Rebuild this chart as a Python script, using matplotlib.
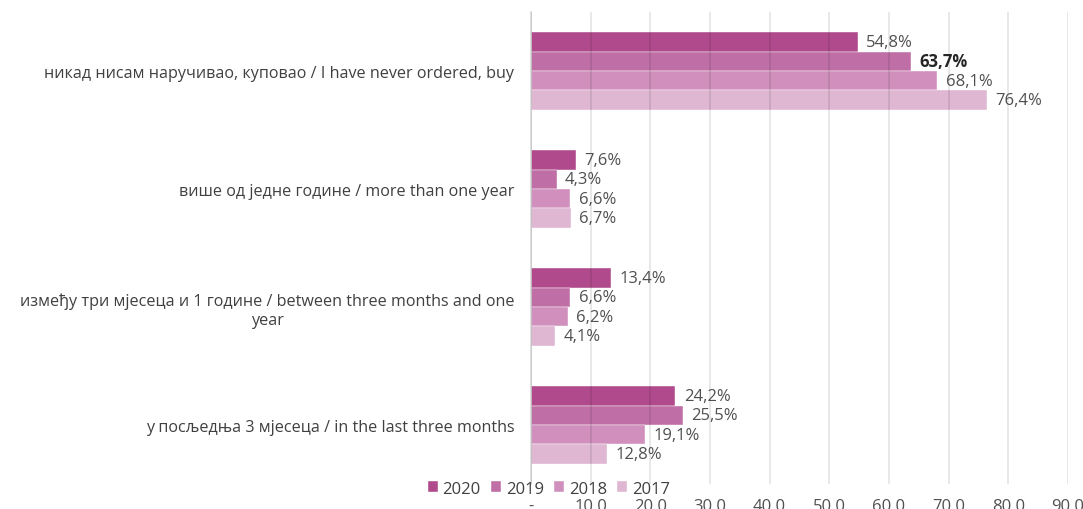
import matplotlib.pyplot as plt
import numpy as np

plt.rcParams['font.family'] = ['Open Sans', 'DejaVu Sans']

# data (top to bottom)
categories = [
    'никад нисам наручивао, куповао / I have never ordered, buy',
    'више од једне године / more than one year',
    'између три мјесеца и 1 године / between three months and one\nyear',
    'у посљедња 3 мјесеца / in the last three months',
]
years = ['2020', '2019', '2018', '2017']
values_2020 = [54.8, 7.6, 13.4, 24.2]
values_2019 = [63.7, 4.3, 6.6, 25.5]
values_2018 = [68.1, 6.6, 6.2, 19.1]
values_2017 = [76.4, 6.7, 4.1, 12.8]
x_ticks = [0, 10, 20, 30, 40, 50, 60, 70, 80, 90]

series = [values_2020, values_2019, values_2018, values_2017]
colors = ['#B04A8C', '#BF6EA6', '#D08FBC', '#E0B7D3']

fig = plt.figure(figsize=(10.83, 5.10), dpi=100)
ax = fig.add_axes([0.4903, 0.049, 0.4958, 0.9255])

y = np.arange(len(categories))
h = 0.165
for i, (vals, col, yr) in enumerate(zip(series, colors, years)):
    pos = y + (i - 1.5) * h
    ax.barh(pos, vals, height=h, color=col, label=yr, zorder=1,
            edgecolor='white', linewidth=0.3)
    for p, v in zip(pos, vals):
        bold = (yr == '2019' and v == 63.7)
        ax.annotate(f'{v:.1f}%'.replace('.', ','), (v, p), xytext=(6, 0),
                    textcoords='offset points', va='center', ha='left',
                    fontsize=12, color='#262626' if bold else '#505050',
                    fontweight='bold' if bold else 'normal', zorder=5)

ax.set_xlim(0, 90)
ax.set_ylim(3.5, -0.5)
ax.set_xticks(x_ticks)
ax.set_xticklabels(['-' if t == 0 else f'{t:.1f}'.replace('.', ',') for t in x_ticks])
ax.set_yticks(y)
ax.set_yticklabels(categories, ha='right', multialignment='center')

ax.tick_params(axis='x', length=0, pad=10, labelsize=12, colors='#505050')
ax.tick_params(axis='y', length=0, pad=12, labelsize=11.6, colors='#404040')

ax.grid(axis='x', color='black', alpha=0.11, linewidth=1.2, zorder=3)
ax.set_axisbelow(False)
for s in ['top', 'right', 'bottom']:
    ax.spines[s].set_visible(False)
ax.spines['left'].set_color('#D9D9D9')
ax.spines['left'].set_linewidth(1.2)

fig.legend(loc='center left', bbox_to_anchor=(0.381, 0.04), ncol=4,
           frameon=False, fontsize=12, handlelength=0.6, handleheight=0.6,
           handletextpad=0.3, columnspacing=0.6, labelcolor='#404040')

fig.savefig('out.png', dpi=100)
